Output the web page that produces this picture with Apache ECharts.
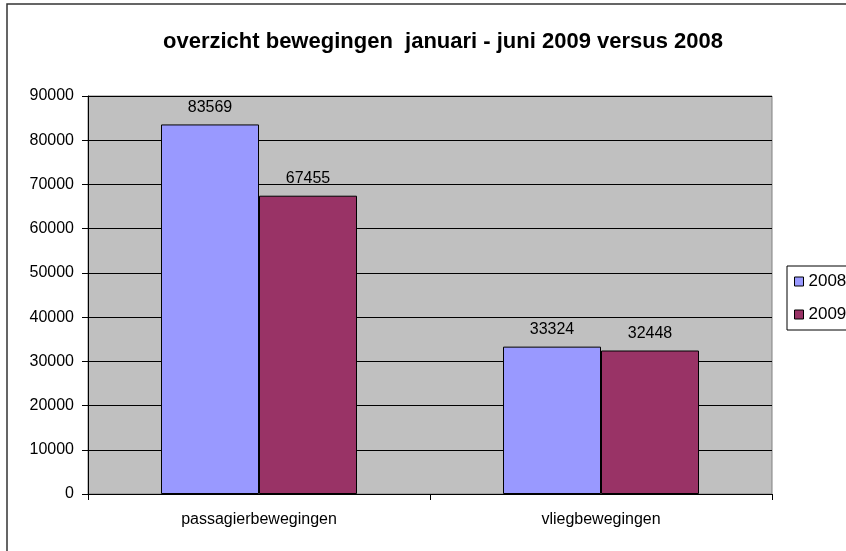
<!DOCTYPE html>
<html>
<head>
<meta charset="utf-8">
<script src="https://cdn.jsdelivr.net/npm/echarts@6/dist/echarts.min.js"></script>
<style>
  html, body { margin: 0; padding: 0; background: #fff; }
  #chart { width: 846px; height: 551px; }
</style>
</head>
<body>
<div id="chart"></div>
<script>
const categories = ['passagierbewegingen', 'vliegbewegingen'];
const years = ['2008', '2009'];
const values2008 = [83569, 33324];
const values2009 = [67455, 32448];
const colors = ['#9999ff', '#993366'];

const chart = echarts.init(document.getElementById('chart'));

const barSeries = (name, data, color) => ({
  name: name,
  type: 'bar',
  data: data,
  barWidth: 98,
  barGap: '0%',
  itemStyle: { color: color, borderColor: '#000', borderWidth: 1 },
  label: {
    show: true,
    position: 'top',
    distance: 9,
    color: '#000',
    fontSize: 16,
    fontFamily: 'Liberation Sans',
  },
});

chart.setOption({
  animation: false,
  textStyle: { fontFamily: 'Liberation Sans' },
  title: {
    text: 'overzicht bewegingen  januari - juni 2009 versus 2008',
    left: 438,
    textAlign: 'center',
    top: 26,
    textStyle: { fontSize: 22, fontWeight: 'bold', color: '#000', fontFamily: 'Liberation Sans' },
  },
  graphic: [{
    type: 'rect',
    shape: { x: 7, y: 4, width: 900, height: 600 },
    style: { fill: 'none', stroke: '#333', lineWidth: 1.5 },
    z: 100,
  }],
  legend: {
    orient: 'vertical',
    left: 787,
    top: 266,
    data: years,
    icon: 'rect',
    itemWidth: 9,
    itemHeight: 9,
    itemGap: 16,
    padding: [7, 24, 7, 7],
    borderColor: '#000',
    borderWidth: 1,
    itemStyle: { borderColor: '#000', borderWidth: 1 },
    textStyle: { fontSize: 17, color: '#000' },
  },
  grid: {
    left: 88,
    right: 74,
    top: 96,
    bottom: 57,
    show: true,
    backgroundColor: '#c0c0c0',
    borderColor: '#808080',
    borderWidth: 1,
  },
  xAxis: {
    type: 'category',
    data: categories,
    axisLine: { lineStyle: { color: '#000' } },
    axisTick: { show: true, length: 6, lineStyle: { color: '#000' } },
    axisLabel: { color: '#000', fontSize: 16, margin: 18 },
  },
  yAxis: {
    type: 'value',
    min: 0,
    max: 90000,
    interval: 10000,
    axisLine: { show: true, lineStyle: { color: '#000' } },
    axisTick: { show: true, length: 6, lineStyle: { color: '#000' } },
    axisLabel: { color: '#000', fontSize: 16, margin: 14, formatter: v => String(v) },
    splitLine: { lineStyle: { color: '#000' } },
  },
  series: [
    barSeries(years[0], values2008, colors[0]),
    barSeries(years[1], values2009, colors[1]),
  ],
});
</script>
</body>
</html>
